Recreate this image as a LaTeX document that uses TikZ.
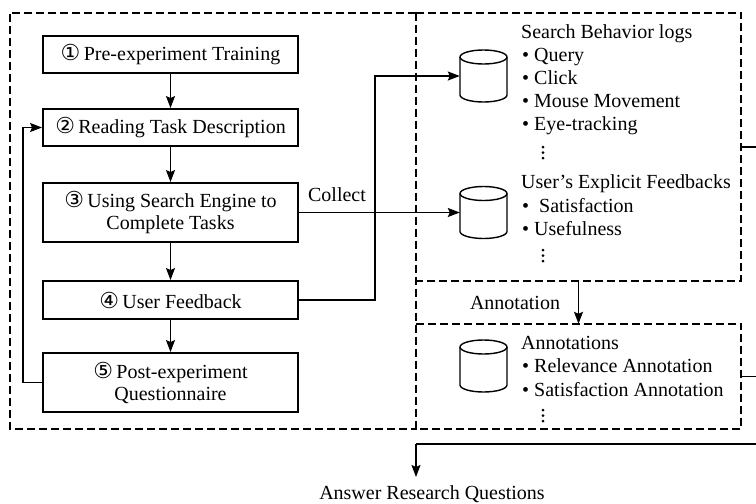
\documentclass[tikz,border=0pt]{standalone}
\usepackage{fontspec}
\setmainfont{Liberation Serif}
\newfontfamily\sym{DejaVu Sans}
\usetikzlibrary{arrows.meta}
\newcommand\cnum[1]{{\sym\fontsize{22}{22}\selectfont #1}}
\begin{document}
\begin{tikzpicture}[x=1pt,y=-1pt,
  every node/.style={font=\fontsize{20}{22}\selectfont, inner sep=0pt},
  stepbox/.style={draw, line width=1.9pt, minimum width=255pt, align=center},
  regionline/.style={line width=1.5pt, dash pattern=on 8pt off 4pt},
  conn/.style={line width=1.5pt},
  arr/.style={conn, -{Stealth[length=12pt,width=9pt,inset=2pt]}},
  lbl/.style={anchor=base west},
  cylbox/.style={minimum width=47pt, minimum height=52pt},
  dbcyl/.pic={
    \draw[line width=1.4pt] (0,-19) ellipse [x radius=23.5, y radius=7];
    \draw[line width=1.4pt] (-23.5,-19) -- (-23.5,19) arc [start angle=180, end angle=0, x radius=23.5, y radius=7] -- (23.5,-19);
  }
]
\useasboundingbox (0,0) rectangle (756,504);

% dashed regions
\node[minimum width=406pt, minimum height=416pt] (L) at (213,221) {};
\node[minimum width=325pt, minimum height=268pt] (TR) at (578.5,147) {};
\node[minimum width=325pt, minimum height=105pt] (BR) at (578.5,376.5) {};
\draw[regionline] (L.north east) -- (L.north west) -- (L.south west) -- (L.south east);
\draw[regionline] (TR.north west) -- (TR.north east) -- (TR.south east) -- (TR.south west);
\draw[regionline] (TR.north west) -- (TR.south west) -- (BR.north west) -- (BR.south west);
\draw[regionline] (BR.north west) -- (BR.north east) -- (BR.south east) -- (BR.south west);

% steps
\node[stepbox, minimum height=37pt] (b1) at (170.5,54.5) {\cnum{①}\,Pre-experiment Training};
\node[stepbox, minimum height=37pt] (b2) at (170.5,127.5) {\cnum{②}\,Reading Task Description};
\node[stepbox, minimum height=59pt] (b3) at (170.5,212.5) {\cnum{③}\,Using Search Engine to\\Complete Tasks};
\node[stepbox, minimum height=38pt] (b4) at (170.5,300) {\cnum{④}\,User Feedback};
\node[stepbox, minimum height=59pt] (b5) at (170.5,382.5) {\cnum{⑤}\,Post-experiment\\Questionnaire};

\draw[arr] (b1) -- (b2);
\draw[arr] (b2) -- (b3);
\draw[arr] (b3) -- (b4);
\draw[arr] (b4) -- (b5);
\coordinate (lx) at (23,0);
\draw[arr] (b5.west) -- (b5.west -| lx) |- (b2.west);

% databases
\node[cylbox] (c1) at (483.5,76) {};
\node[cylbox] (c2) at (483.5,212.5) {};
\node[cylbox] (c3) at (483.5,366) {};
\pic at (c1) {dbcyl};
\pic at (c2) {dbcyl};
\pic at (c3) {dbcyl};

% collect
\node (collect) at (337,195) {Collect};
\draw[arr] (b3.east) -- (c2.west);
\coordinate (jx) at (375,0);
\draw[arr] (b4.east) -- (b4.east -| jx) |- (c1.west);

% texts top right
\node[lbl] (s0) at (521,38.5) {Search Behavior logs};
\node[lbl] (s1) at (522,61.5) {•\ Query};
\node[lbl] (s2) at (522,84) {•\ Click};
\node[lbl] (s3) at (522,107) {•\ Mouse Movement};
\node[lbl] (s4) at (522,130) {•\ Eye-tracking};
\foreach \yy in {147,152.5,158} \fill (543,\yy) circle (1.5);
\node[lbl] (u0) at (521,188.5) {User’s Explicit Feedbacks};
\node[lbl] (u1) at (522,212.5) {•\ \ Satisfaction};
\node[lbl] (u2) at (522,235) {•\ Usefulness};
\foreach \yy in {250,255.5,261} \fill (543,\yy) circle (1.5);

% annotation
\node (annot) at (515,303) {Annotation};
\draw[arr] (TR.south) -- (BR.north);
\node[lbl] (a0) at (521,349.5) {Annotations};
\node[lbl] (a1) at (522,372.5) {•\ Relevance Annotation};
\node[lbl] (a2) at (522,396.5) {•\ Satisfaction Annotation};
\foreach \yy in {410,415.5,421} \fill (543,\yy) circle (1.5);

% output
\coordinate (rc) at (757.5,444);
\coordinate (ac) at (416,444);
\coordinate (atip) at (416,477);
\draw[conn] (TR.east) -| (rc) -- (ac);
\draw[conn] (BR.east) -- (BR.east -| rc);
\draw[arr] (ac) -- (atip);
\node[anchor=base] (ans) at (432,499) {Answer Research Questions};
\end{tikzpicture}
\end{document}
